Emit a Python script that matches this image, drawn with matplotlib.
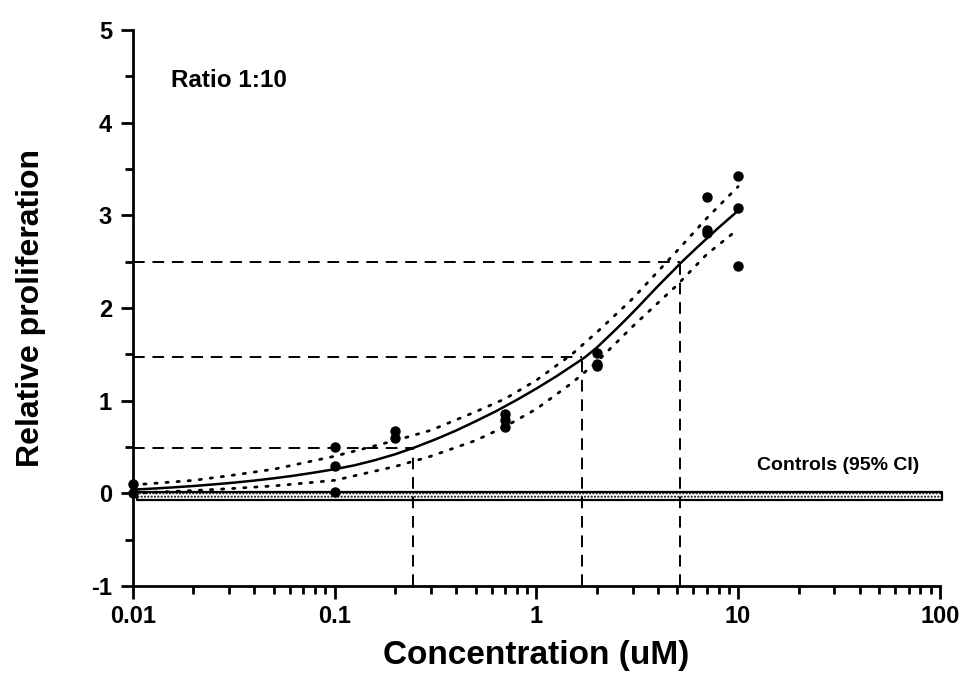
import matplotlib
matplotlib.use("Agg")
import matplotlib.pyplot as plt
import numpy as np

plt.rcParams['font.family'] = ['Liberation Sans', 'DejaVu Sans']
plt.rcParams['font.weight'] = 'bold'
plt.rcParams['axes.unicode_minus'] = False

# measured points (conc in uM, relative proliferation)
pt_conc = [0.01, 0.01, 0.1, 0.1, 0.1, 0.2, 0.2, 0.7, 0.7, 0.7, 2, 2, 2, 7, 7, 7, 10, 10, 10]
pt_prolif = [0.10, 0.0, 0.50, 0.30, 0.01, 0.67, 0.60, 0.86, 0.79, 0.72,
             1.51, 1.40, 1.37, 3.20, 2.84, 2.81, 3.42, 3.08, 2.45]

# fitted curve
fit_conc = [0.01, 0.0126, 0.0158, 0.02, 0.0251, 0.0316, 0.0398, 0.05, 0.0631, 0.0794,
            0.1, 0.126, 0.158, 0.2, 0.246, 0.316, 0.398, 0.5, 0.631, 0.794,
            1, 1.26, 1.74, 2, 2.51, 2.82, 3.16, 3.98, 5.01, 5.16, 6.31, 7.94, 10]
fit_mid = [0.04, 0.051, 0.064, 0.079, 0.096, 0.115, 0.137, 0.162, 0.191, 0.224,
           0.26, 0.303, 0.357, 0.422, 0.49, 0.582, 0.675, 0.777, 0.886, 1.004,
           1.13, 1.264, 1.467, 1.575, 1.78, 1.89, 2.0, 2.23, 2.45, 2.48, 2.66, 2.86, 3.05]

# 95% confidence band of the fit
ci_conc = [0.01, 0.02, 0.03, 0.05, 0.1, 0.2, 0.3, 0.5, 0.7, 1, 1.5, 2, 3, 5, 7, 10]
ci_upper = [0.09, 0.14, 0.19, 0.26, 0.40, 0.57, 0.68, 0.88, 1.02, 1.22, 1.50, 1.74,
            2.10, 2.62, 2.97, 3.31]
ci_lower = [0.00, 0.03, 0.05, 0.08, 0.14, 0.29, 0.40, 0.57, 0.72, 0.91, 1.19, 1.42,
            1.80, 2.25, 2.58, 2.85]

# read-out levels: response level and the concentration it hits
level_y = [0.49, 1.47, 2.495]
level_x = [0.246, 1.69, 5.16]

# controls 95% CI band
ctrl_lo, ctrl_hi = -0.072, 0.017

fig = plt.figure(figsize=(9.62, 6.89), dpi=100)
ax = fig.add_axes([0.138, 0.1495, 0.839, 0.807])

ax.set_xscale('log')
ax.set_xlim(0.01, 100)
ax.set_ylim(-1, 5)

# controls band
ax.fill_between([0.0105, 102], ctrl_lo, ctrl_hi, facecolor='white', edgecolor='black',
                hatch='.....', linewidth=1.6, clip_on=False, zorder=2)

# read-out dashed lines
for yv, xv in zip(level_y, level_x):
    ax.plot([0.01, xv], [yv, yv], color='black', lw=1.4, dashes=(6, 4), zorder=3)
    ax.plot([xv, xv], [-1, yv], color='black', lw=1.4, dashes=(6, 4), zorder=3)

ax.plot(ci_conc, ci_upper, color='black', lw=2.0, linestyle=(0, (0.8, 3.2)),
        dash_capstyle='round', zorder=3)
ax.plot(ci_conc, ci_lower, color='black', lw=2.0, linestyle=(0, (0.8, 3.2)),
        dash_capstyle='round', zorder=3)
ax.plot(fit_conc, fit_mid, color='black', lw=1.8, zorder=4)
ax.plot(pt_conc, pt_prolif, 'o', color='black', ms=6.5, clip_on=False, zorder=5)

ax.text(0.0155, 4.45, 'Ratio 1:10', fontsize=17.5, fontweight='bold', va='center')
ax.text(79, 0.3, 'Controls (95% CI)', fontsize=14, fontweight='bold', ha='right', va='center')

ax.spines['top'].set_visible(False)
ax.spines['right'].set_visible(False)
ax.spines['left'].set_linewidth(2)
ax.spines['bottom'].set_linewidth(2)

ax.set_yticks([-1, 0, 1, 2, 3, 4, 5])
ax.set_yticks(np.arange(-0.5, 5, 1), minor=True)
ax.set_xticks([0.01, 0.1, 1, 10, 100])
ax.set_xticklabels(['0.01', '0.1', '1', '10', '100'])
ax.tick_params(axis='both', which='major', length=9, width=2, labelsize=17, direction='out')
ax.tick_params(axis='both', which='minor', length=6, width=2, direction='out')
ax.tick_params(axis='x', pad=5)
ax.tick_params(axis='y', pad=6)
for lab in ax.get_xticklabels() + ax.get_yticklabels():
    lab.set_fontweight('bold')

ax.set_xlabel('Concentration (uM)', fontsize=24, fontweight='bold', labelpad=8)
ax.set_ylabel('Relative proliferation', fontsize=23, fontweight='bold', labelpad=32)

fig.savefig('out.png', dpi=100)
